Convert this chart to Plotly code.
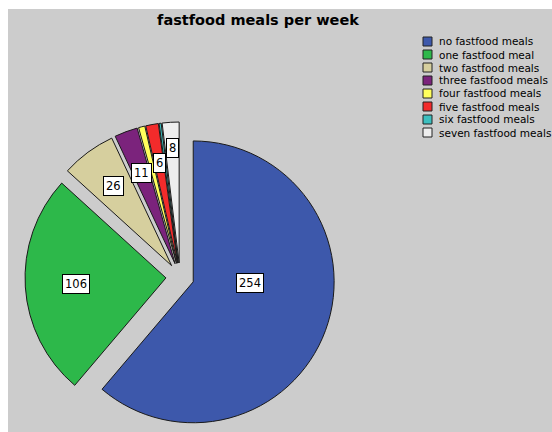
import math
import plotly.graph_objects as go

# Weekly fast-food meal counts
categories = [
    "no fastfood meals",
    "one fastfood meal",
    "two fastfood meals",
    "three fastfood meals",
    "four fastfood meals",
    "five fastfood meals",
    "six fastfood meals",
    "seven fastfood meals",
]
counts = [254, 106, 26, 11, 3, 6, 1, 8]
colors = ["#3D58AB", "#2DB84A", "#D6CF9E", "#7B237C",
          "#FFFF5C", "#F22B2B", "#3CBFBF", "#EEEEEE"]
title_text = "fastfood meals per week"

# Page / layout geometry (pixels)
W, H = 552, 432
PULL = 0.1
CX, CY = 180, 277          # pie centre
HALF = 155                 # half side of the pie's domain box
R = 2 * HALF / (2 + 2 * PULL)   # radius plotly will give the pulled pie

# Value-label placement: fraction of radius from each slice's apex and angular nudge
label_rfrac = [0.40, 0.64, 0.70, 0.69, 0.70, 0.72, 0.75, 0.82]
label_shift = [-19, 0, 0, 0, 0, 0, 0, 0]
MIN_LABELLED = 5           # slices smaller than this get no value box

FONT = "DejaVu Sans"


def px_to_paper(x, y):
    return x / W, 1 - y / H


fig = go.Figure()

fig.add_trace(go.Pie(
    labels=categories,
    values=counts,
    sort=False,
    direction="clockwise",
    rotation=0,
    pull=PULL,
    marker=dict(colors=colors, line=dict(color="#1A1A1A", width=1)),
    textinfo="none",
    showlegend=False,
    domain=dict(
        x=[(CX - HALF) / W, (CX + HALF) / W],
        y=[max(0.0, 1 - (CY + HALF) / H), 1 - (CY - HALF) / H],
    ),
))

# Value boxes placed along each slice's mid angle
total = sum(counts)
annotations = []
start = 0.0
for i, v in enumerate(counts):
    sweep = 360.0 * v / total
    mid = start + sweep / 2
    start += sweep
    if v < MIN_LABELLED:
        continue
    a = math.radians(mid)
    ax0 = CX + PULL * R * math.sin(a)
    ay0 = CY - PULL * R * math.cos(a)
    b = math.radians(mid + label_shift[i])
    lx = ax0 + label_rfrac[i] * R * math.sin(b)
    ly = ay0 - label_rfrac[i] * R * math.cos(b)
    px, py = px_to_paper(lx, ly)
    annotations.append(dict(
        x=px, y=py, xref="paper", yref="paper", showarrow=False,
        text=str(v), font=dict(family=FONT, size=11.5, color="black"),
        bgcolor="white", bordercolor="black", borderwidth=1, borderpad=2,
        xanchor="center", yanchor="middle",
    ))

# Key: swatch squares and category names
shapes = [
    dict(type="rect", xref="paper", yref="paper", layer="below",
         x0=8 / W, x1=1, y0=0, y1=1 - 9 / H,
         fillcolor="#CCCCCC", line=dict(width=0)),
]
KEY_X, KEY_Y0, KEY_STEP, SW = 423, 41.5, 13.0, 9
for i, (name, c) in enumerate(zip(categories, colors)):
    yc = KEY_Y0 + i * KEY_STEP
    x0, y0 = px_to_paper(KEY_X, yc - SW / 2)
    x1, y1 = px_to_paper(KEY_X + SW, yc + SW / 2)
    shapes.append(dict(type="rect", xref="paper", yref="paper",
                       x0=x0, x1=x1, y0=y1, y1=y0,
                       fillcolor=c, line=dict(color="#222222", width=1)))
    tx, ty = px_to_paper(KEY_X + SW + 5, yc)
    annotations.append(dict(
        x=tx, y=ty, xref="paper", yref="paper", showarrow=False,
        text=name, font=dict(family=FONT, size=10.5, color="black"),
        xanchor="left", yanchor="middle",
    ))

fig.update_layout(
    width=W, height=H,
    margin=dict(l=0, r=0, t=0, b=0),
    paper_bgcolor="white",
    title=dict(text=title_text, x=258 / W, y=1 - 20 / H,
               xanchor="center", yanchor="middle",
               font=dict(family=FONT, size=14.5, color="black", weight="bold")),
    shapes=shapes,
    annotations=annotations,
)

fig.write_html("out.html")
